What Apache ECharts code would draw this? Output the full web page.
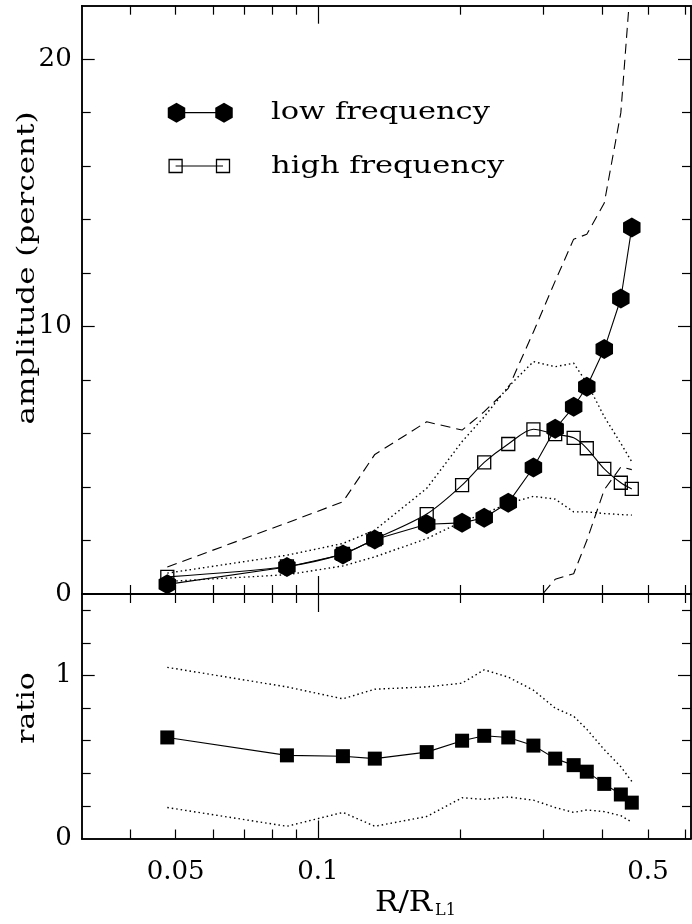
<!DOCTYPE html>
<html><head><meta charset="utf-8">
<script src="https://cdn.jsdelivr.net/npm/echarts@6/dist/echarts.min.js"></script>
<style>html,body{margin:0;padding:0;background:#fff}#c{width:692px;height:924px}</style>
</head><body><div id="c"></div>
<script>
// ---- data ----
const radius = [0.048, 0.086, 0.113, 0.132, 0.170, 0.202, 0.225, 0.253, 0.286, 0.318, 0.348, 0.371, 0.404, 0.438, 0.462];
const lowFreq = [0.36, 1.01, 1.48, 2.04, 2.61, 2.66, 2.85, 3.41, 4.73, 6.18, 7.00, 7.75, 9.16, 11.05, 13.71];
const highFreq = [0.64, 1.03, 1.50, 2.05, 2.99, 4.07, 4.92, 5.61, 6.16, 5.98, 5.84, 5.45, 4.68, 4.16, 3.93];
const lowUpper = [1.01, 2.66, 3.45, 5.22, 6.44, 6.13, 6.82, 7.69, 9.8, 11.7, 13.27, 13.45, 14.62, 18.0, 23.4];
const lowLower = [null, null, null, null, null, null, null, null, -0.4, 0.55, 0.76, 2.0, 3.9, 4.75, 4.65];
const highUpper = [0.78, 1.45, 1.89, 2.39, 3.95, 5.7, 6.63, 7.75, 8.69, 8.5, 8.63, 7.9, 6.63, 5.63, 4.94];
const highLower = [0.47, 0.72, 1.05, 1.39, 2.07, 2.71, 3.0, 3.39, 3.65, 3.55, 3.07, 3.07, 3.01, 2.97, 2.95];
const ratio = [0.62, 0.51, 0.505, 0.49, 0.53, 0.60, 0.63, 0.62, 0.57, 0.49, 0.45, 0.41, 0.335, 0.27, 0.22];
const ratioUpper = [1.05, 0.93, 0.857, 0.916, 0.93, 0.953, 1.035, 0.99, 0.91, 0.80, 0.75, 0.67, 0.545, 0.44, 0.35];
const ratioLower = [0.19, 0.075, 0.16, 0.075, 0.135, 0.25, 0.24, 0.255, 0.235, 0.19, 0.16, 0.175, 0.165, 0.14, 0.10];

const xLabelTicks = [0.05, 0.1, 0.5];
const xMinorTicks = [0.04, 0.05, 0.06, 0.07, 0.08, 0.09, 0.2, 0.3, 0.4, 0.5, 0.6];
const xMajorTicks = [0.1];
const ampLabels = [0, 10, 20];
const ampMinor = [2, 4, 6, 8, 12, 14, 16, 18];
const ampMajor = [10, 20];
const ratioLabels = [0, 1];
const ratioMinor = [0.2, 0.4, 0.6, 0.8, 1.2, 1.4];
const ratioMajor = [1];
const seriesNames = ['low frequency', 'high frequency'];

// ---- build ----
const L = v => Math.log10(v);
const XMIN = -1.5, XMAX = -0.21;
const FONT = '"DejaVu Serif", serif';
const INK = '#000';

function xAx(grid, pos, ticks, len, labels) {
  return {
    type: 'value', gridIndex: grid, position: pos, min: XMIN, max: XMAX,
    axisLine: {show: true, onZero: false, lineStyle: {color: INK, width: 1.5}},
    axisTick: {show: true, inside: true, length: len, customValues: ticks.map(L), lineStyle: {color: INK, width: 1.2}},
    axisLabel: {show: !!labels, customValues: xLabelTicks.map(L), margin: 21,
      formatter: v => String(+Math.pow(10, v).toPrecision(3)),
      fontFamily: FONT, fontSize: 26, color: INK},
    splitLine: {show: false}
  };
}
function yAx(grid, pos, min, max, ticks, len, labels) {
  return {
    type: 'value', gridIndex: grid, position: pos, min: min, max: max, offset: 0,
    axisLine: {show: true, onZero: false, lineStyle: {color: INK, width: 1.5}},
    axisTick: {show: true, inside: true, length: len, customValues: ticks, lineStyle: {color: INK, width: 1.2}},
    axisLabel: {show: !!labels, customValues: labels || [], margin: 10,
      fontFamily: FONT, fontSize: 26, color: INK},
    splitLine: {show: false}
  };
}

const xAxes = [
  xAx(0, 'bottom', xMinorTicks, 9), xAx(0, 'bottom', xMajorTicks, 18),
  xAx(0, 'top', xMinorTicks, 9), xAx(0, 'top', xMajorTicks, 18),
  xAx(1, 'bottom', xMinorTicks, 9, true), xAx(1, 'bottom', xMajorTicks, 18),
  xAx(1, 'top', xMinorTicks, 9), xAx(1, 'top', xMajorTicks, 18)
];
const yAxes = [
  yAx(0, 'left', 0, 22, ampMinor, 9, ampLabels), yAx(0, 'left', 0, 22, ampMajor, 13),
  yAx(0, 'right', 0, 22, ampMinor, 9), yAx(0, 'right', 0, 22, ampMajor, 13),
  yAx(1, 'left', 0, 1.5, ratioMinor, 9, ratioLabels), yAx(1, 'left', 0, 1.5, ratioMajor, 13),
  yAx(1, 'right', 0, 1.5, ratioMinor, 9), yAx(1, 'right', 0, 1.5, ratioMajor, 13)
];

const pts = arr => radius.map((r, i) => arr[i] == null ? null : [L(r), arr[i]]).filter(p => p);
const HEX = 'path://M0,-10 L8.66,-5 L8.66,5 L0,10 L-8.66,5 L-8.66,-5 Z';

function bound(grid, arr, type, width) {
  return {
    type: 'line', xAxisIndex: grid * 4, yAxisIndex: grid * 4, data: pts(arr),
    showSymbol: false, symbol: 'none', silent: true, clip: true, z: 1,
    lineStyle: {color: INK, width: width, type: type}
  };
}
const DASH = [10, 6], DOT = [1.5, 3];

const series = [
  bound(0, lowUpper, DASH, 1.1), bound(0, lowLower, DASH, 1.1),
  bound(0, highUpper, DOT, 1.4), bound(0, highLower, DOT, 1.4),
  bound(1, ratioUpper, DOT, 1.4), bound(1, ratioLower, DOT, 1.4),
  {
    name: seriesNames[1], type: 'line', xAxisIndex: 0, yAxisIndex: 0, data: pts(highFreq),
    smooth: 0.3, symbol: 'rect', symbolSize: 13, z: 3,
    itemStyle: {color: 'rgba(0,0,0,0)', borderColor: INK, borderWidth: 1.3},
    lineStyle: {color: INK, width: 1.1}
  },
  {
    name: seriesNames[0], type: 'line', xAxisIndex: 0, yAxisIndex: 0, data: pts(lowFreq),
    symbol: HEX, symbolSize: [17.5, 20], z: 4,
    itemStyle: {color: INK, borderWidth: 0},
    lineStyle: {color: INK, width: 1.1}
  },
  {
    name: 'ratio', type: 'line', xAxisIndex: 4, yAxisIndex: 4, data: pts(ratio),
    symbol: 'rect', symbolSize: 14, z: 4,
    itemStyle: {color: INK, borderWidth: 0},
    lineStyle: {color: INK, width: 1.1}
  }
];

function hexPts(cx, cy) {
  return [[cx, cy - 10], [cx + 8.75, cy - 5], [cx + 8.75, cy + 5], [cx, cy + 10], [cx - 8.75, cy + 5], [cx - 8.75, cy - 5]];
}
function txt(x, y, text, size, sx, rot, align) {
  return {type: 'text', x: x, y: y, rotation: rot || 0, scaleX: sx || 1, scaleY: 1,
    style: {text: text, fontFamily: FONT, fontSize: size, fill: INK,
      align: align || 'center', verticalAlign: 'middle', textAlign: align || 'center', textVerticalAlign: 'middle'}};
}
const graphics = [
  {type: 'line', shape: {x1: 176.5, y1: 112.7, x2: 224, y2: 112.7}, style: {stroke: INK, lineWidth: 1.2}},
  {type: 'polygon', shape: {points: hexPts(176.5, 112.7)}, style: {fill: INK}},
  {type: 'polygon', shape: {points: hexPts(224, 112.7)}, style: {fill: INK}},
  {type: 'line', shape: {x1: 175.6, y1: 166, x2: 223, y2: 166}, style: {stroke: INK, lineWidth: 1.2}},
  {type: 'rect', shape: {x: 175.6 - 6.5, y: 166 - 6.5, width: 13, height: 13}, style: {fill: 'none', stroke: INK, lineWidth: 1.3}},
  {type: 'rect', shape: {x: 223 - 6.5, y: 166 - 6.5, width: 13, height: 13}, style: {fill: 'none', stroke: INK, lineWidth: 1.3}},
  txt(271, 113, seriesNames[0], 24, 1.27, 0, 'left'),
  txt(271, 167, seriesNames[1], 24, 1.27, 0, 'left'),
  txt(28, 268, 'amplitude (percent)', 24, 1.29, Math.PI / 2),
  txt(28, 708, 'ratio', 24, 1.24, Math.PI / 2),
  txt(375, 904, 'R/R', 27, 1.15, 0, 'left'),
  txt(435, 911, 'L1', 16, 1.0, 0, 'left')
];

const chart = echarts.init(document.getElementById('c'), null, {renderer: 'canvas'});
chart.setOption({
  animation: false,
  backgroundColor: '#fff',
  grid: [
    {left: 81.7, top: 5.7, width: 609.3, height: 588.3},
    {left: 81.7, top: 594, width: 609.3, height: 244.5}
  ],
  xAxis: xAxes,
  yAxis: yAxes,
  series: series,
  graphic: graphics
});
</script></body></html>
